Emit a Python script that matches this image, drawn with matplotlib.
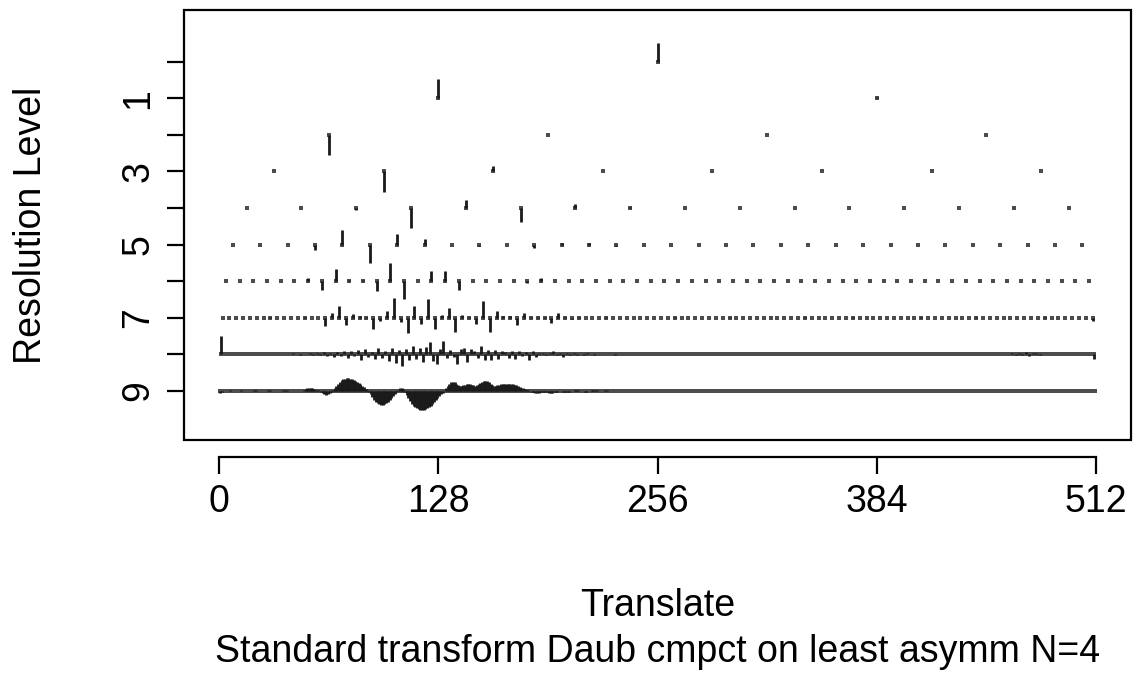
import numpy as np
import matplotlib
matplotlib.use('Agg')
import matplotlib.pyplot as plt
from matplotlib.patches import Rectangle

plt.rcParams['font.family'] = ['Liberation Sans', 'DejaVu Sans']

# wavelet coefficients per resolution level (level j has 2**j values)
lev0 = [19]
lev1 = [19, 1]
lev2 = [-20, 0, 0, 0]
lev3 = [0, -21, 5, 0, 0, 0, 0, 0]
lev4 = [0, 0, -2, -20, 8, -14, 4, 1, 0, 0, 0, 0, 0, 0, 0, 0]
lev5 = [0, 0, 0, -6, 15, -19, 11, 6, 0, -2, 0, -4, 2, 2, -2, 0,
        0, 0, 0, 0, 0, 0, 0, 0, 0, 0, 0, 0, 0, 0, 0, 0]
lev6 = [0, 0, 0, 0.5, 0, 0, 3, -9, 12, 1, 1, -10, 18, -18, 0, 10,
        10, -9, 0.5, 0, 0, 0, -2, 3, 0, 0, 0, 0.5, 0, 0, 0, 0,
        0, 0, 0, 0, 0, 0, 0, 0, 0, 0, 0, 0, 0, 0, 0, 0,
        0, 0, 0, 0, 0, 0, 0, 0, 0, 0, 0, 0, 0, 0, 0, 0]
lev7 = [0, 0, 0, 0, 0, 0, 0, 0.5, 0, 0, 0, 0, 1, 0, 0, -8,
        5, 12, -7, 4, 2, 1, -11, -3, 7, 20, -4, -15, 12, -6, 19, -11,
        3, 10, -14, 3, 1, -6, 17, -14, 7, 2, 2, -7, 5, 1, 1, 1,
        -5, 5, 1, -1, 1, 0, 0, 0, 0.5, 0, 0, 0, 0, 0, 0, 0,
        0, 0, 0.5, 0, 0, 0, 0, 0, 0, 0, 0.5, 0, 0, 0, 0, 0,
        0, 0, 0, 0, 0, 0.5, 0, 0, 0, 0, 0, 0, 0.5, 0, 0, 0,
        0, 0, 0, 0, 0, 0, 0.5, 0, 0, 0, 0, 0, 0, 0, 0.5, 0,
        0, 0, 0, 0, 0, 0, 0, 0, 0.5, 0, 0, 0, 0, 0, 0, -3]
lev8 = [18, 0, 0.5, 0, 0, 0.5, 0, 0, 0, 0.5, 0, 0, 0, 0.5, 0, 0,
        0.5, 0, 0, 0.5, 0, 1, 0, -1, 0.5, 0, 1, -1, 1, -1, 2, -2,
        1, -3, 2, -2, 3, -4, 3, -2, 4, -6, 5, -3, 2, -5, 6, -4,
        3, -7, 6, -9, 4, -12, 5, -6, 8, -5, 6, -8, 7, 12, -7, -10,
        5, 13, -4, 4, -3, -10, 5, 6, -8, 5, 3, -4, 8, -6, 4, -6,
        4, -5, 3, 2, -4, 3, -5, 3, -2, 2, -6, 3, -3, 1, 1, -1,
        1, 3, -1, 1, -3, 1, -1, 1, -1, 0.5, -0.5, 1, 0, -0.5, 0.5, 0,
        0, 0.5, 0, -0.5, 0, 0, 0.5, 0, 0, 0, 0.5, 0, 0, 0, 0, 0.5,
        0, 0, 0, 0.5, 0, 0, 0, 0, 0.5, 0, 0, 0, 0, 0, 0.5, 0,
        0, 0, 0.5, 0, 0, 0, 0, 0, 0, 0.5, 0, 0, 0, 0, 0, 0,
        0.5, 0, 0, 0, 0, 0, 0, 0.5, 0, 0, 0, 0, 0, 0, 0, 0,
        0, 0, 0.5, 0, 0, 0, 0, 0, 0, 0, 0.5, 0, 0, 0, 0, 0,
        0, 0.5, 0, 0, 0, 0, 0, 0, 0, 0, 0, 0.5, 0, 0, 0, 0,
        0, 0, 0, 0.5, 0, 0, 0, 0, 0, 0, 0, 0, 0, 0, 0.5, 0,
        0, 0, 0, 0, 0, 0, 0, 1, -1, 1.5, -1, 2, -1.5, 1, 1.5, -1,
        0.5, 0, 0, 0, 0, 0, 0, 0, 0, 0, 0, 0, 0, 0, 0, -5]
lev9 = [-2, -1, 0, 0, 0, 0, 0.5, 0, 0, 0, 0, 0, 0.5, 0, 0, 0,
        0, 0, 0, 0, 0.5, 0.5, 0, 0, 0, 0, 0, 0, 0.5, 0.5, 0, 0,
        0, 0, 0, 0, 0, 0.5, 0.5, 0.5, 0, 0, 0, 0, 0, 0, 0, 0,
        0, 1, 2, 2.5, 3, 3, 2.5, 2, 1, 0.5, 0, -1, -2, -3, -4, -3,
        -2, -1, 1, 3, 5, 7, 9, 10.5, 11.5, 12, 12.5, 12.5, 12, 11.5, 11, 10,
        9, 8, 6.5, 5, 3.5, 2, 0.5, -1, -3, -6, -9, -11, -12.5, -13.5, -14, -14,
        -13.5, -12.5, -11, -9, -7, -5, -3, -1.5, 1, 2.5, 3, 1.5, -1, -4, -7, -10,
        -13, -15, -16.5, -17.5, -18.5, -19, -19, -19, -18.5, -17.5, -16.5, -15, -13, -11, -9, -7,
        -5, -3.5, -2, -0.5, 3, 5, 7, 8.5, 9, 8.5, 7, 5.5, 5, 5, 5.5, 6,
        6.5, 7, 6.5, 6, 5.5, 5, 5.5, 6.5, 8, 9, 9.5, 10, 9.5, 8.5, 7, 6,
        5, 5, 5.5, 6, 6.5, 7, 7, 7, 6.5, 6.5, 6.5, 6.5, 6, 5.5, 5, 4,
        3, 2.5, 2, 1, 0.5, -0.5, -1, -1.5, -2, -2, -2, -1.5, -1.5, -1, -1, -1.5,
        -2, -2, -2, -1.5, -1, -1, -0.5, -0.5, -1, -1, -1.5, -1.5, -1, -0.5, 0, 0.5,
        0.5, 0.5, 0, -0.5, -0.5, -1, -1, -0.5, 0, 0.5, 1, 1, 0.5, 0, -0.5, -0.5,
        0, 0.5, 0.5, 0, 0, 0, 0, 0, 0, 0, 0, 0, 0, 0, 0, 0,
        0, 0, 0, 0, 0, 0, 0, 0, 0, 0, 0, 0, 0, 0, 0, 0,
        0, 0, 0, 0, 0, 0, 0, 0, 0, 0, 0, 0, 0, 0, 0, 0,
        0, 0, 0, 0, 0, 0, 0, 0, 0, 0, 0, 0, 0, 0, 0, 0,
        0, 0, 0, 0, 0, 0, 0, 0, 0, 0, 0, 0, 0, 0, 0, 0,
        0, 0, 0, 0, 0, 0, 0, 0, 0, 0, 0, 0, 0, 0, 0, 0,
        0, 0, 0, 0, 0, 0, 0, 0, 0, 0, 0, 0, 0, 0, 0, 0,
        0, 0, 0, 0, 0, 0, 0, 0, 0, 0, 0, 0, 0, 0, 0, 0,
        0, 0, 0, 0, 0, 0, 0, 0, 0, 0, 0, 0, 0, 0, 0, 0,
        0, 0, 0, 0, 0, 0, 0, 0, 0, 0, 0, 0, 0, 0, 0, 0,
        0, 0, 0, 0, 0, 0, 0, 0, 0, 0, 0, 0, 0, 0, 0, 0,
        0, 0, 0, 0, 0, 0, 0, 0, 0, 0, 0, 0, 0, 0, 0, 0,
        0, 0, 0, 0, 0, 0, 0, 0, 0, 0, 0, 0, 0, 0, 0, 0,
        0, 0, 0, 0, 0, 0, 0, 0, 0, 0, 0, 0, 0, 0, 0, 0,
        0, 0, 0, 0, 0, 0, 0, 0, 0, 0, 0, 0, 0, 0, 0, 0,
        0, 0, 0, 0, 0, 0, 0, 0, 0, 0, 0, 0, 0, 0, 0, 0,
        0, 0, 0, 0, 0, 0, 0, 0, 0, 0, 0, 0, 0, 0, 0, 0,
        0, 0, 0, 0, 0, 0, 0, 0, 0, 0, 0, 0, 0, 0, 0, 0]

levels = [lev0, lev1, lev2, lev3, lev4, lev5, lev6, lev7, lev8, lev9]
n_total = 512

x_ticks = [0, 128, 256, 384, 512]
y_ticks = [0, 1, 2, 3, 4, 5, 6, 7, 8, 9]
y_labels = ['', '1', '', '3', '', '5', '', '7', '', '9']

xlabel = 'Translate'
ylabel = 'Resolution Level'
subtitle = 'Standard transform Daub cmpct on least asymm N=4'

# global scaling: the largest coefficient spans a bit over half a level
max_abs = max(np.max(np.abs(d)) for d in levels)
sc = 0.574 / max_abs

fig = plt.figure(figsize=(11.36, 6.73), dpi=100)
ax = fig.add_axes([0.1620, 0.3462, 0.8337, 0.6391])

for j, d in enumerate(levels):
    d = np.asarray(d, dtype=float)
    n = len(d)
    x = (np.arange(n) + 0.5) * n_total / n
    ax.plot(x, np.full(n, j), 's', ms=2.2, mew=0, color='0.3', snap=False)
    ax.vlines(x, j, j - d * sc, colors='0.1', linewidth=2.0)

ax.set_xlim(-20.48, 532.48)
ax.set_ylim(10.35, -1.42)

# R-style box, with the x axis detached a little below it
ax.add_patch(Rectangle((0, 0), 1, 1, transform=ax.transAxes, fill=False,
                       edgecolor='black', linewidth=1.6, clip_on=False))
for side in ['top', 'right', 'left']:
    ax.spines[side].set_visible(False)
ax.spines['bottom'].set_position(('outward', 12))
ax.spines['bottom'].set_bounds(0, 512)
ax.spines['bottom'].set_linewidth(1.6)

ax.set_xticks(x_ticks)
ax.set_xticklabels([str(v) for v in x_ticks])
ax.set_yticks(y_ticks)
ax.set_yticklabels(y_labels, rotation=90, va='center')
ax.tick_params(axis='both', direction='out', length=12, width=1.6,
               labelsize=27)
ax.tick_params(axis='x', pad=8)
ax.tick_params(axis='y', pad=8)

fig.text(0.027, 0.665, ylabel, rotation=90, ha='center',
         va='center', fontsize=27)
fig.text(0.579, 0.100, xlabel, ha='center', va='center', fontsize=27)
fig.text(0.579, 0.031, subtitle, ha='center', va='center', fontsize=27)

fig.savefig('out.png', dpi=100)
